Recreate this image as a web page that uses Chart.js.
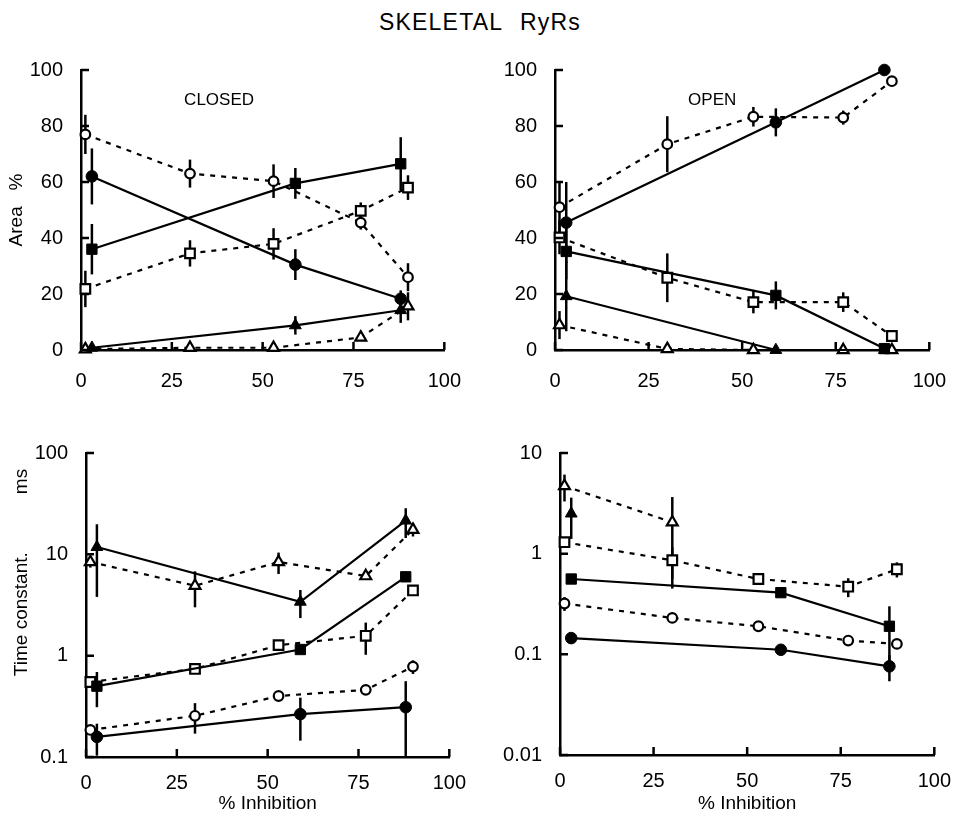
<!DOCTYPE html>
<html>
<head>
<meta charset="utf-8">
<script src="https://cdn.jsdelivr.net/npm/chart.js@4.4.0/dist/chart.umd.min.js"></script>
<style>
  body { margin: 0; background: #fff; }
  #page { position: relative; width: 965px; height: 826px; font-family: "Liberation Sans", Arial, sans-serif; }
  #title { position: absolute; left: 0; top: 9px; width: 960px; text-align: center; font-size: 23px; letter-spacing: 1.2px; word-spacing: 10px; color: #000; }
  canvas { position: absolute; }
</style>
</head>
<body>
<div id="page">
  <div id="title">SKELETAL RyRs</div>
  <canvas id="closedArea" width="480" height="360" style="left:0;top:40px"></canvas>
  <canvas id="openArea" width="485" height="360" style="left:480px;top:40px"></canvas>
  <canvas id="closedTau" width="480" height="406" style="left:0;top:420px"></canvas>
  <canvas id="openTau" width="485" height="406" style="left:480px;top:420px"></canvas>
</div>
<script>
// % inhibition of each group of records (filled = solid fits, open = dashed)
const inhibitionFilled = [3, 59, 88];
const inhibitionOpen = [1.2, 30, 53, 77, 90];

const inhibitionTicks = [0, 25, 50, 75, 100];
const areaTicks = [0, 20, 40, 60, 80, 100];
const closedTauTicks = [0.1, 1, 10, 100];
const openTauTicks = [0.01, 0.1, 1, 10];

// closed states, area %
const closedAreaCircle = [62, 30.5, 18.3];
const closedAreaCircleErr = [10, 5.5, 3];
const closedAreaSquare = [36, 59.5, 66.5];
const closedAreaSquareErr = [9, 5.5, 9.5];
const closedAreaTriangle = [0.8, 8.8, 14.2];
const closedAreaTriangleErr = [0, 3.3, 4.5];
const closedAreaOpenCircle = [77, 63, 60.3, 45.5, 26];
const closedAreaOpenCircleErr = [7, 5, 6, 2.5, 5];
const closedAreaOpenSquare = [21.8, 34.5, 37.9, 49.7, 58];
const closedAreaOpenSquareErr = [6.5, 4.7, 5.6, 3, 4.4];
const closedAreaOpenTriangle = [0.3, 0.8, 0.8, 4.5, 15.6];
const closedAreaOpenTriangleErr = [0, 0, 0, 0, 5];

// open states, area %
const openAreaCircle = [45.5, 81.3, 100];
const openAreaCircleErr = [14.5, 5, 0];
const openAreaSquare = [35.2, 19.5, 0.5];
const openAreaSquareErr = [10, 5, 0];
const openAreaTriangle = [19.2, 0, 0];
const openAreaTriangleErr = [12.5, 0, 0];
const openAreaOpenCircle = [51, 73.5, 83.3, 83, 96];
const openAreaOpenCircleErr = [9, 10, 3.5, 2.5, 1.5];
const openAreaOpenSquare = [40.2, 25.8, 17.1, 17.1, 5];
const openAreaOpenSquareErr = [6, 8.7, 4, 3.5, 2];
const openAreaOpenTriangle = [8.9, 0.4, 0, 0, 0];
const openAreaOpenTriangleErr = [5, 0, 0, 0, 0];

// closed states, time constants (ms)
const closedTauCircle = [0.158, 0.265, 0.31];
const closedTauCircleErr = [0.055, 0.12, 0.25];
const closedTauSquare = [0.5, 1.15, 6.0];
const closedTauSquareErr = [0.19, 0.1, 0.3];
const closedTauTriangle = [11.8, 3.4, 21.5];
const closedTauTriangleErr = [8, 1.05, 7];
const closedTauOpenCircle = [0.185, 0.255, 0.4, 0.46, 0.78];
const closedTauOpenCircleErr = [0.02, 0.085, 0.02, 0.04, 0.12];
const closedTauOpenSquare = [0.55, 0.74, 1.27, 1.57, 4.4];
const closedTauOpenSquareErr = [0.05, 0.05, 0.08, 0.55, 0.2];
const closedTauOpenTriangle = [8.4, 4.9, 8.4, 6.1, 17.5];
const closedTauOpenTriangleErr = [1, 1.9, 2, 0.4, 2.5];

// open states, time constants (ms)
const openTauCircle = [0.145, 0.111, 0.076];
const openTauCircleErr = [0.01, 0.005, 0.022];
const openTauSquare = [0.56, 0.41, 0.19];
const openTauSquareErr = [0.06, 0.03, 0.11];
const openTauTriangle = [2.5];
const openTauTriangleErr = [1.1];
const openTauOpenCircle = [0.32, 0.23, 0.19, 0.137, 0.127];
const openTauOpenCircleErr = [0.05, 0.01, 0.01, 0.01, 0.01];
const openTauOpenSquare = [1.3, 0.86, 0.56, 0.47, 0.7];
const openTauOpenSquareErr = [0.15, 0.3, 0.03, 0.1, 0.12];
const openTauOpenTriangle = [4.7, 2.05];
const openTauOpenTriangleErr = [1.4, 1.6];

Chart.defaults.font.family = '"Liberation Sans", Arial, sans-serif';
Chart.defaults.font.size = 20;
Chart.defaults.color = '#000';

// marker sizes: [open, filled]
const RADIUS = { circle: [4.8, 5.8], rect: [6.8, 7.3], triangle: [6.3, 6.8] };

function series(xs, ys, errs, shape, filled) {
  return {
    data: ys.map((y, i) => ({ x: xs[i], y: y })),
    errors: errs,
    borderColor: '#000',
    borderWidth: 2.2,
    borderDash: filled ? [] : [5, 6],
    pointStyle: shape,
    pointRadius: RADIUS[shape][filled ? 1 : 0],
    pointBackgroundColor: filled ? '#000' : '#fff',
    pointBorderColor: '#000',
    pointBorderWidth: filled ? 1 : 2.2,
    tension: 0,
    fill: false,
    clip: false
  };
}

// vertical SEM bars, drawn under the lines and markers
const errorBars = {
  id: 'errorBars',
  beforeDatasetsDraw(chart) {
    const { ctx, scales: { x, y } } = chart;
    ctx.save();
    ctx.strokeStyle = '#000';
    ctx.lineWidth = 2.5;
    chart.data.datasets.forEach(ds => {
      (ds.errors || []).forEach((e, i) => {
        if (!e) return;
        const p = ds.data[i];
        const lo = Math.max(p.y - e, y.min);
        const hi = Math.min(p.y + e, y.max);
        const px = x.getPixelForValue(p.x);
        ctx.beginPath();
        ctx.moveTo(px, y.getPixelForValue(lo));
        ctx.lineTo(px, y.getPixelForValue(hi));
        ctx.stroke();
      });
    });
    ctx.restore();
  }
};

// tick marks pointing into the plot
const innerTicks = {
  id: 'innerTicks',
  afterDatasetsDraw(chart) {
    const { ctx, chartArea: a, scales: { x, y } } = chart;
    ctx.save();
    ctx.strokeStyle = '#000';
    ctx.lineWidth = 2.5;
    ctx.beginPath();
    x.ticks.forEach(t => {
      const px = x.getPixelForValue(t.value);
      ctx.moveTo(px, a.bottom);
      ctx.lineTo(px, a.bottom - 8);
    });
    y.ticks.forEach(t => {
      const py = y.getPixelForValue(t.value);
      ctx.moveTo(a.left, py);
      ctx.lineTo(a.left + 8, py);
    });
    ctx.stroke();
    ctx.restore();
  }
};

// CLOSED / OPEN caption placed inside the plot
const panelLabel = {
  id: 'panelLabel',
  afterDraw(chart, args, opts) {
    if (!opts.text) return;
    const { ctx, scales: { x, y } } = chart;
    ctx.save();
    ctx.font = '17px "Liberation Sans", Arial, sans-serif';
    ctx.fillStyle = '#000';
    ctx.textAlign = 'center';
    ctx.textBaseline = 'middle';
    ctx.fillText(opts.text, x.getPixelForValue(opts.x), y.getPixelForValue(opts.y));
    ctx.restore();
  }
};

function makePanel(id, cfg) {
  const yScale = {
    type: cfg.log ? 'logarithmic' : 'linear',
    min: cfg.yTicks[0],
    max: cfg.yTicks[cfg.yTicks.length - 1],
    afterBuildTicks: s => { s.ticks = cfg.yTicks.map(v => ({ value: v })); },
    afterFit: s => { s.width = cfg.yWidth; },
    grid: { display: false, drawTicks: false },
    border: { display: true, color: '#000', width: 2.5 },
    ticks: { padding: 18, callback: v => String(v) },
    title: cfg.yTitle ? {
      display: true, text: cfg.yTitle, align: cfg.yTitleAlign || 'center',
      font: { size: 19 }, padding: { top: cfg.yTitlePad, bottom: 0 }
    } : { display: false }
  };
  const xScale = {
    type: 'linear',
    min: 0,
    max: 100,
    afterBuildTicks: s => { s.ticks = inhibitionTicks.map(v => ({ value: v })); },
    afterFit: s => { s.height = cfg.xHeight; },
    grid: { display: false, drawTicks: false },
    border: { display: true, color: '#000', width: 2.5 },
    ticks: { padding: cfg.xTickPad, maxRotation: 0, callback: v => String(v) },
    title: cfg.xTitle ? {
      display: true, text: cfg.xTitle, font: { size: 19 }, padding: { top: 0, bottom: 11 }
    } : { display: false }
  };
  return new Chart(document.getElementById(id), {
    type: 'line',
    data: { datasets: cfg.datasets },
    options: {
      responsive: false,
      animation: false,
      events: [],
      layout: { padding: { top: cfg.padTop, right: cfg.padRight, left: 0, bottom: 0 } },
      scales: { x: xScale, y: yScale },
      plugins: {
        legend: { display: false },
        tooltip: { enabled: false },
        panelLabel: cfg.label || {}
      }
    },
    plugins: [innerTicks, errorBars, panelLabel]
  });
}

const F = inhibitionFilled, O = inhibitionOpen;

makePanel('closedArea', {
  yTicks: areaTicks, yWidth: 81, xHeight: 50, padTop: 28, padRight: 28, xTickPad: 19,
  yTitle: 'Area   %', yTitlePad: 5.5,
  label: { text: 'CLOSED', x: 38, y: 89 },
  datasets: [
    series(F, closedAreaCircle, closedAreaCircleErr, 'circle', true),
    series(F, closedAreaSquare, closedAreaSquareErr, 'rect', true),
    series(F, closedAreaTriangle, closedAreaTriangleErr, 'triangle', true),
    series(O, closedAreaOpenCircle, closedAreaOpenCircleErr, 'circle', false),
    series(O, closedAreaOpenSquare, closedAreaOpenSquareErr, 'rect', false),
    series(O, closedAreaOpenTriangle, closedAreaOpenTriangleErr, 'triangle', false)
  ]
});

makePanel('openArea', {
  yTicks: areaTicks, yWidth: 75, xHeight: 50, padTop: 28, padRight: 20, xTickPad: 19,
  label: { text: 'OPEN', x: 42, y: 89 },
  datasets: [
    series(F, openAreaCircle, openAreaCircleErr, 'circle', true),
    series(F, openAreaSquare, openAreaSquareErr, 'rect', true),
    series(F, openAreaTriangle, openAreaTriangleErr, 'triangle', true),
    series(O, openAreaOpenCircle, openAreaOpenCircleErr, 'circle', false),
    series(O, openAreaOpenSquare, openAreaOpenSquareErr, 'rect', false),
    series(O, openAreaOpenTriangle, openAreaOpenTriangleErr, 'triangle', false)
  ]
});

makePanel('closedTau', {
  log: true, yTicks: closedTauTicks, yWidth: 86, xHeight: 69, padTop: 33, padRight: 27, xTickPad: 14,
  yTitle: 'Time constant.           ms   ', yTitleAlign: 'end', yTitlePad: 10.5,
  xTitle: '% Inhibition',
  datasets: [
    series(F, closedTauCircle, closedTauCircleErr, 'circle', true),
    series(F, closedTauSquare, closedTauSquareErr, 'rect', true),
    series(F, closedTauTriangle, closedTauTriangleErr, 'triangle', true),
    series(O, closedTauOpenCircle, closedTauOpenCircleErr, 'circle', false),
    series(O, closedTauOpenSquare, closedTauOpenSquareErr, 'rect', false),
    series(O, closedTauOpenTriangle, closedTauOpenTriangleErr, 'triangle', false)
  ]
});

makePanel('openTau', {
  log: true, yTicks: openTauTicks, yWidth: 80, xHeight: 71, padTop: 33, padRight: 20, xTickPad: 14,
  xTitle: '% Inhibition',
  datasets: [
    series(F, openTauCircle, openTauCircleErr, 'circle', true),
    series(F, openTauSquare, openTauSquareErr, 'rect', true),
    series(F, openTauTriangle, openTauTriangleErr, 'triangle', true),
    series(O, openTauOpenCircle, openTauOpenCircleErr, 'circle', false),
    series(O, openTauOpenSquare, openTauOpenSquareErr, 'rect', false),
    series(O.slice(0, 2), openTauOpenTriangle, openTauOpenTriangleErr, 'triangle', false)
  ]
});
</script>
</body>
</html>
